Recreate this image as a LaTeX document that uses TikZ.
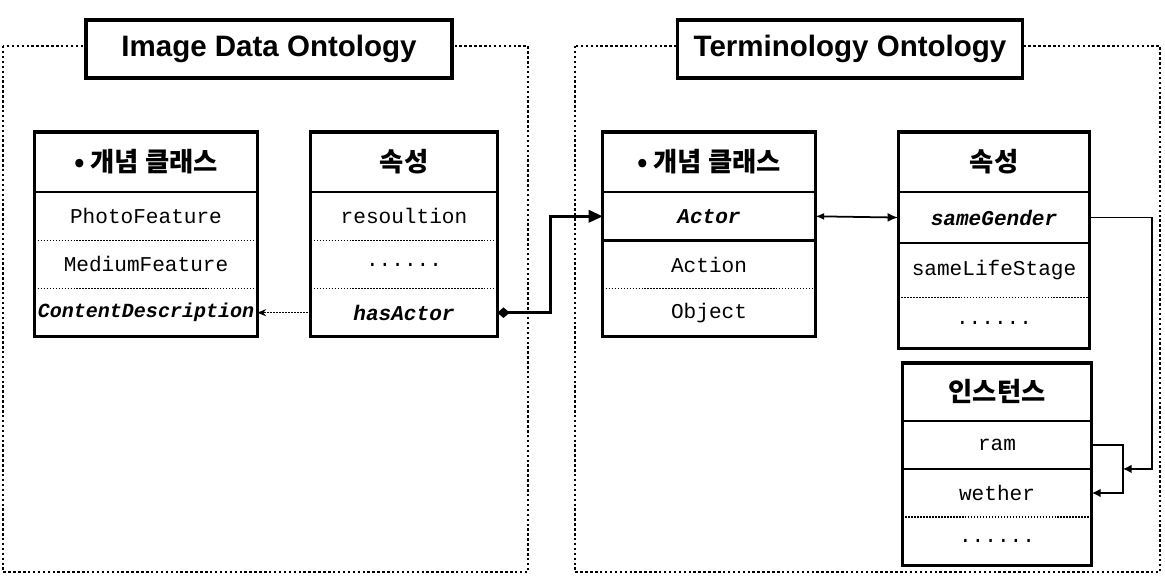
\documentclass[tikz,border=0pt]{standalone}
\usepackage{fontspec}
\setmainfont{Liberation Sans}
\setmonofont{Liberation Mono}
\newfontfamily\kofont{Noto Sans CJK KR}
\usetikzlibrary{positioning,calc,arrows.meta}

\tikzset{
	frame/.style={line width=1.6pt, dash pattern=on 1.4pt off 1.4pt},
	titlebox/.style={draw, line width=2.2pt, fill=white, minimum height=1.16cm, inner sep=0pt, font=\fontsize{16.8}{20}\selectfont\bfseries},
	headcell/.style={minimum height=1.19cm, inner sep=0pt, font=\kofont\fontsize{15}{17}\selectfont\bfseries},
	rowcell/.style={minimum height=0.95cm, inner sep=0pt, font=\ttfamily\fontsize{12}{14}\selectfont},
	keycell/.style={rowcell, font=\ttfamily\fontsize{12}{14}\selectfont\bfseries\itshape},
	boxline/.style={line width=1.8pt},
	solidsep/.style={line width=1.3pt},
	dotsep/.style={line width=0.9pt, dash pattern=on 0.9pt off 0.8pt},
	linkline/.style={line width=1pt},
	mainlink/.style={line width=1.6pt, {Diamond[length=7pt,width=6pt]}-{Triangle[length=8pt,width=7pt]}}
}

\begin{document}
\begin{tikzpicture}[x=0.02cm, y=-0.02cm]
		%%%%% START %%%%%
		\useasboundingbox (0,0) rectangle (1165,583);
		
		% outer frames
		\draw[frame] (3,46) rectangle (528,572);
		\draw[frame] (575,46) rectangle (1160,572);
		\node[titlebox, minimum width=7.32cm] (imgtitle) at (269,49) {Image Data Ontology};
		\node[titlebox, minimum width=6.9cm] (termtitle) at (850,49) {Terminology Ontology};
		
		% image data ontology: classes
		\begin{scope}[every node/.append style={minimum width=4.44cm}]
			\node[headcell, anchor=north] (lchead) at (146,132) {• 개념 클래스};
			\node[rowcell, below=0pt of lchead] (photo) {PhotoFeature};
			\node[rowcell, below=0pt of photo] (medium) {MediumFeature};
			\node[keycell, font=\ttfamily\fontsize{11.4}{14}\selectfont\bfseries\itshape, below=0pt of medium] (contdesc) {ContentDescription};
		\end{scope}
		\draw[boxline] (lchead.north west) rectangle (contdesc.south east);
		\draw[solidsep] (lchead.south west) -- (lchead.south east);
		\draw[dotsep] (photo.south west) -- (photo.south east);
		\draw[dotsep] (medium.south west) -- (medium.south east);
		
		% image data ontology: properties
		\begin{scope}[every node/.append style={minimum width=3.72cm}]
			\node[headcell, anchor=north] (lphead) at (404,132) {속성};
			\node[rowcell, below=0pt of lphead] (resol) {resoultion};
			\node[rowcell, below=0pt of resol] (lpdots) {......};
			\node[keycell, below=0pt of lpdots] (hasactor) {hasActor};
		\end{scope}
		\draw[boxline] (lphead.north west) rectangle (hasactor.south east);
		\draw[solidsep] (lphead.south west) -- (lphead.south east);
		\draw[dotsep] (resol.south west) -- (resol.south east);
		\draw[dotsep] (lpdots.south west) -- (lpdots.south east);
		
		% terminology ontology: classes
		\begin{scope}[every node/.append style={minimum width=4.24cm}]
			\node[headcell, anchor=north] (rchead) at (709,132) {• 개념 클래스};
			\node[keycell, below=0pt of rchead] (actor) {Actor};
			\node[rowcell, below=0pt of actor] (action) {Action};
			\node[rowcell, below=0pt of action] (object) {Object};
		\end{scope}
		\draw[boxline] (rchead.north west) rectangle (object.south east);
		\draw[solidsep] (rchead.south west) -- (rchead.south east);
		\draw[solidsep] (actor.south west) -- (actor.south east);
		\draw[dotsep] (action.south west) -- (action.south east);
		
		% terminology ontology: properties
		\begin{scope}[every node/.append style={minimum width=3.82cm}]
			\node[headcell, anchor=north] (rphead) at (994,132) {속성};
			\node[keycell, minimum height=1cm, below=0pt of rphead] (samegender) {sameGender};
			\node[rowcell, minimum height=1.08cm, below=0pt of samegender] (samelife) {sameLifeStage};
			\node[rowcell, minimum height=1cm, below=0pt of samelife] (rpdots) {......};
		\end{scope}
		\draw[boxline] (rphead.north west) rectangle (rpdots.south east);
		\draw[solidsep] (rphead.south west) -- (rphead.south east);
		\draw[solidsep] (samegender.south west) -- (samegender.south east);
		\draw[dotsep] (samelife.south west) -- (samelife.south east);
		
		% terminology ontology: instances
		\begin{scope}[every node/.append style={minimum width=3.78cm}]
			\node[headcell, minimum height=1.14cm, anchor=north] (insthead) at (997,363) {인스턴스};
			\node[rowcell, below=0pt of insthead] (ram) {ram};
			\node[rowcell, below=0pt of ram] (wether) {wether};
			\node[rowcell, below=0pt of wether] (instdots) {......};
		\end{scope}
		\draw[boxline] (insthead.north west) rectangle (instdots.south east);
		\draw[solidsep] (insthead.south west) -- (insthead.south east);
		\draw[solidsep] (ram.south west) -- (ram.south east);
		\draw[dotsep] (wether.south west) -- (wether.south east);
		
		% links
		\draw[dotsep, -{Stealth[length=5pt,width=4pt]}] (hasactor.west) -- (contdesc.east);
		\draw[mainlink] (hasactor.east) -- ++(53,0) |- (actor.west);
		\draw[linkline, {Latex[length=5pt,width=4pt]}-{Latex[length=6pt,width=5pt]}] (actor.east) -- (samegender.west);
		\coordinate (brk) at ($(ram.east)!0.5!(wether.east)+(31,0)$);
		\draw[linkline, -{Latex[length=5pt,width=5pt]}] (ram.east) -- ++(31,0) |- (wether.east);
		\draw[linkline, -{Latex[length=5pt,width=5pt]}] (samegender.east) -- ++(62,0) |- (brk);
		
		%%%%% END %%%%%
	\end{tikzpicture}
\end{document}
